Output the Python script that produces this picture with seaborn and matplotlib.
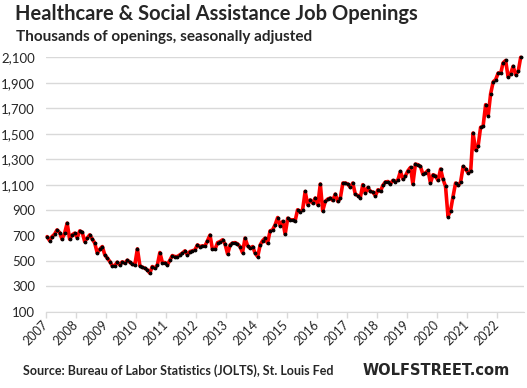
import pandas as pd
import numpy as np
import matplotlib
matplotlib.use('Agg')
import matplotlib.pyplot as plt
import matplotlib.ticker as mticker
import seaborn as sns

# Healthcare & Social Assistance job openings, thousands, SA (monthly from Jan 2007)
openings_2007_2012 = [
    692, 659, 692, 711, 745, 724, 672, 719, 798, 672, 706, 719,
    685, 737, 727, 653, 680, 706, 674, 641, 562, 593, 614, 549,
    523, 496, 464, 464, 491, 470, 494, 483, 507, 491, 475, 470,
    596, 462, 452, 444, 431, 405, 457, 444, 470, 567, 488, 488,
    470, 509, 543, 535, 535, 549, 562, 580, 549, 575, 580, 588,
    627, 614, 619, 619, 659, 704, 593, 593, 645, 653, 667, 633,
]
openings_2013_2017 = [
    556, 627, 641, 645, 635, 614, 567, 680, 619, 601, 614, 562,
    535, 627, 659, 680, 641, 737, 745, 785, 842, 777, 811, 711,
    837, 824, 824, 816, 903, 889, 903, 1047, 942, 981, 955, 995,
    942, 1105, 895, 968, 987, 995, 976, 1026, 968, 995, 1113, 1113,
    1105, 1078, 1113, 1026, 1015, 999, 1100, 1034, 1078, 1047, 1042, 1013,
]
openings_2018_2022 = [
    1060, 1047, 1094, 1121, 1125, 1107, 1133, 1125, 1139, 1204, 1144, 1170,
    1210, 1236, 1105, 1262, 1257, 1243, 1183, 1192, 1212, 1113, 1178, 1170,
    1133, 1223, 1144, 1086, 850, 897, 1007, 1113, 1094, 1121, 1243, 1223,
    1192, 1210, 1506, 1375, 1401, 1551, 1558, 1729, 1643, 1816, 1908, 1926,
    1978, 1978, 2057, 2076, 1947, 1973, 2030, 1965, 1991, 2101,
]
openings = openings_2007_2012 + openings_2013_2017 + openings_2018_2022
dates = pd.date_range('2007-01-01', periods=len(openings), freq='MS') + pd.Timedelta(days=14)
years = list(range(2007, 2023))
y_ticks = list(range(100, 2101, 200))

df = pd.DataFrame({'date': dates, 'openings': openings})

sns.set_style('white')
plt.rcParams['font.family'] = ['Lato', 'DejaVu Sans']

fig = plt.figure(figsize=(5.27, 3.88), dpi=100)
ax = fig.add_axes([0.0873, 0.196, 0.907, 0.656])

sns.lineplot(data=df, x='date', y='openings', ax=ax, color='#ff0000', linewidth=2.6,
             marker='o', markersize=2.0, markerfacecolor='black', markeredgecolor='black',
             clip_on=False)

ax.set_ylim(100, 2100)
ax.set_xlim(pd.Timestamp('2007-01-01'), pd.Timestamp('2022-11-24'))
ax.set_yticks(y_ticks)
ax.yaxis.set_major_formatter(mticker.FuncFormatter(lambda v, p: f'{int(v):,}'))
ax.set_xticks([pd.Timestamp(f'{y}-01-01') for y in years])
ax.set_xticklabels([str(y) for y in years], rotation=45, ha='right', va='center',
                   rotation_mode='anchor')

ax.grid(axis='y', color='#d9d9d9', linewidth=1)
ax.set_axisbelow(True)
for s in ['top', 'right', 'left']:
    ax.spines[s].set_visible(False)
ax.spines['bottom'].set_color('#d9d9d9')
ax.tick_params(axis='y', length=0, pad=8, labelsize=9.5, labelcolor='#262626')
ax.tick_params(axis='x', length=4, width=1, color='#d9d9d9', pad=4, labelsize=9,
               labelcolor='#262626', direction='out', bottom=True)
ax.set_xlabel('')
ax.set_ylabel('')

fig.text(0.029, 0.965, 'Healthcare & Social Assistance Job Openings', fontsize=14.5,
         fontweight='bold', ha='left', va='center')
fig.text(0.030, 0.905, 'Thousands of openings, seasonally adjusted', fontsize=11,
         fontweight='bold', ha='left', va='center')
fig.text(0.044, 0.044, 'Source: Bureau of Labor Statistics (JOLTS), St. Louis Fed', fontsize=9,
         fontweight='bold', ha='left', va='center')
fig.text(0.968, 0.044, 'WOLFSTREET.com', fontsize=10.5, fontweight='heavy',
         family=['DejaVu Sans'], ha='right', va='center')

fig.savefig('out.png', dpi=100)
